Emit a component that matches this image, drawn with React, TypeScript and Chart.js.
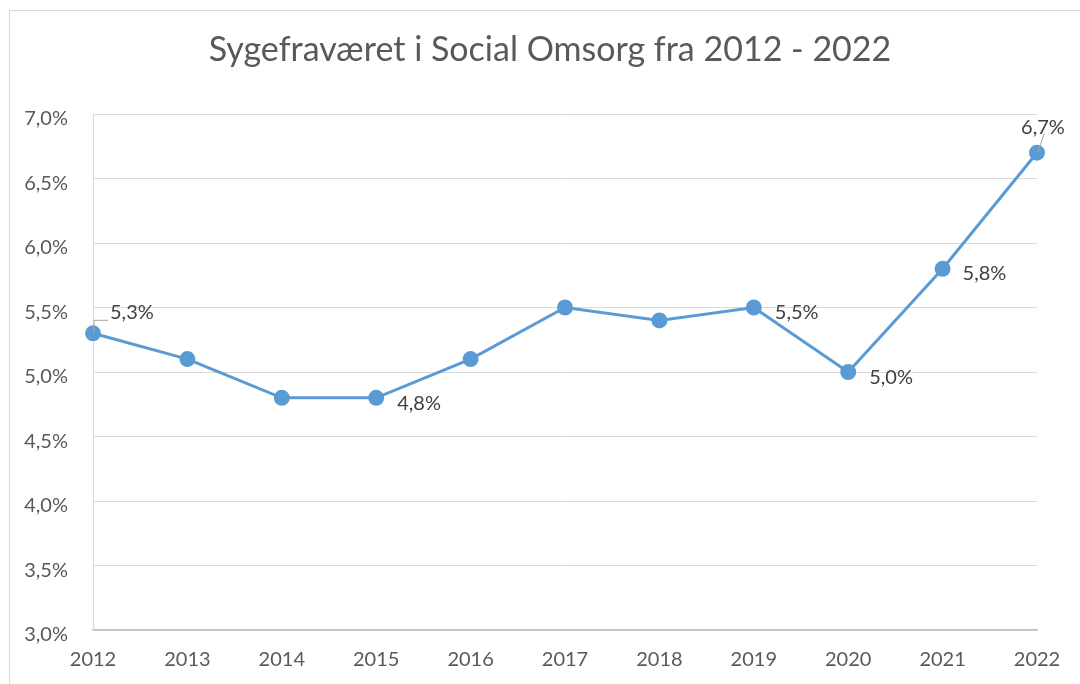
import React, { useEffect, useRef } from "react";
import { Chart, registerables } from "chart.js";

Chart.register(...registerables);

const title = "Sygefraværet i Social Omsorg fra 2012 - 2022";
const years = ["2012", "2013", "2014", "2015", "2016", "2017", "2018", "2019", "2020", "2021", "2022"];
const sickLeave = [5.3, 5.1, 4.8, 4.8, 5.1, 5.5, 5.4, 5.5, 5.0, 5.8, 6.7];
const labeledYears = ["2012", "2015", "2019", "2020", "2021", "2022"];
const yMin = 3.0;
const yMax = 7.0;
const yStep = 0.5;

// label placement (style only), offsets in px relative to the point
const labelStyle: Record<string, { dx: number; dy: number; align: CanvasTextAlign; leader?: string }> = {
  "2012": { dx: 17, dy: -21, align: "left", leader: "elbow" },
  "2015": { dx: 21, dy: 6, align: "left" },
  "2019": { dx: 21, dy: 5, align: "left" },
  "2020": { dx: 21, dy: 6, align: "left" },
  "2021": { dx: 20, dy: 5, align: "left" },
  "2022": { dx: 6, dy: -25, align: "center", leader: "straight" },
};

const FONT = "Lato, 'Open Sans', sans-serif";
const fmt = (v: number) => v.toFixed(1).replace(".", ",") + "%";

const frameAndLabels = {
  id: "frameAndLabels",
  beforeDraw(chart: any) {
    const ctx = chart.ctx;
    ctx.save();
    ctx.fillStyle = "#ffffff";
    ctx.fillRect(0, 0, chart.width, chart.height);
    ctx.strokeStyle = "#d9d9d9";
    ctx.lineWidth = 1;
    ctx.strokeRect(9.5, 10.5, chart.width + 20, chart.height + 20);
    ctx.fillStyle = "#595959";
    ctx.font = `34px ${FONT}`;
    ctx.textAlign = "center";
    ctx.textBaseline = "alphabetic";
    ctx.fillText(title, 550, 61);
    ctx.restore();
  },
  afterDatasetsDraw(chart: any) {
    const ctx = chart.ctx;
    const meta = chart.getDatasetMeta(0);
    ctx.save();
    ctx.font = `20px ${FONT}`;
    ctx.textBaseline = "middle";
    labeledYears.forEach((yr) => {
      const i = years.indexOf(yr);
      const pt = meta.data[i];
      const s = labelStyle[yr];
      const x = pt.x + s.dx;
      const y = pt.y + s.dy;
      if (s.leader === "elbow") {
        ctx.strokeStyle = "#a6a6a6";
        ctx.lineWidth = 1;
        ctx.beginPath();
        ctx.moveTo(pt.x + 1, pt.y);
        ctx.lineTo(pt.x + 1, y + 8);
        ctx.lineTo(x - 2, y + 8);
        ctx.stroke();
      } else if (s.leader === "straight") {
        ctx.strokeStyle = "#a6a6a6";
        ctx.lineWidth = 1;
        ctx.beginPath();
        ctx.moveTo(pt.x + 1, pt.y);
        ctx.lineTo(x + 1, y + 6);
        ctx.stroke();
      }
      ctx.fillStyle = "#404040";
      ctx.textAlign = s.align;
      ctx.fillText(fmt(sickLeave[i]), x, y);
    });
    ctx.restore();
  },
};

export default function App() {
  const ref = useRef<HTMLCanvasElement>(null);
  useEffect(() => {
    if (!ref.current) return;
    const chart = new Chart(ref.current, {
      type: "line",
      data: {
        labels: years,
        datasets: [
          {
            data: sickLeave,
            borderColor: "#5b9bd5",
            backgroundColor: "#5b9bd5",
            borderWidth: 3,
            pointRadius: 6.5,
            pointBackgroundColor: "#5b9bd5",
            pointBorderColor: "#5b9bd5",
            tension: 0,
          },
        ],
      },
      options: {
        responsive: false,
        animation: false,
        layout: { padding: { left: 0, right: 43, top: 114, bottom: 0 } },
        plugins: {
          legend: { display: false },
          tooltip: { enabled: false },
          title: { display: false },
        },
        scales: {
          x: {
            offset: false,
            grid: { display: false, drawTicks: false },
            border: { display: true, color: "#bfbfbf", width: 1.5 },
            ticks: { color: "#595959", font: { family: FONT, size: 20 }, padding: 18, maxRotation: 0 },
            afterFit: (s: any) => { s.height = 54; },
          },
          y: {
            min: yMin,
            max: yMax,
            grid: { color: "#d9d9d9", lineWidth: 1, drawTicks: false },
            border: { display: true, color: "#d9d9d9", width: 1 },
            ticks: {
              stepSize: yStep,
              color: "#595959",
              font: { family: FONT, size: 20 },
              padding: 25,
              labelOffset: 5,
              callback: (v: any) => fmt(Number(v)),
            },
            afterFit: (s: any) => { s.width = 93; },
          },
        },
      },
      plugins: [frameAndLabels],
    });
    return () => chart.destroy();
  }, []);
  return (
    <div style={{ position: "absolute", left: 0, top: 0, width: 1080, height: 684, overflow: "hidden" }}>
      <canvas ref={ref} width={1080} height={684} />
    </div>
  );
}
